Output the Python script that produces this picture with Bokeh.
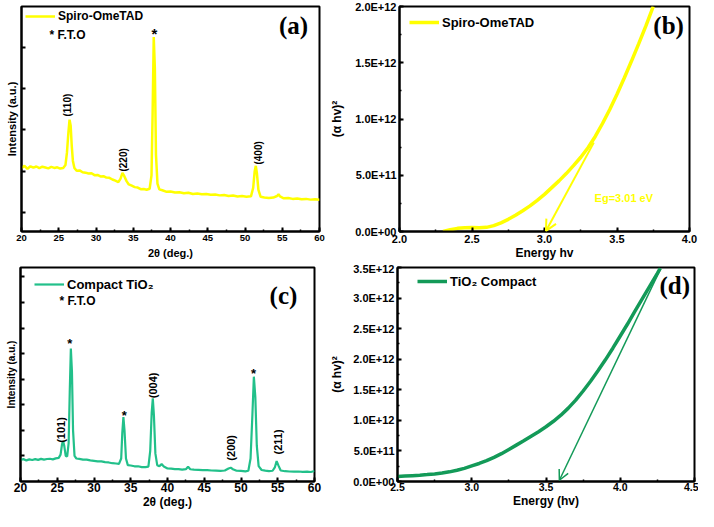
import math
from bokeh.plotting import figure
from bokeh.models import (Range1d, SingleIntervalTicker, FixedTicker, Legend, LegendItem,
                          CustomJSTickFormatter, Arrow, OpenHead, NumeralTickFormatter,
                          CustomLabelingPolicy)
from bokeh.layouts import column, row
from bokeh.embed import file_html
from bokeh.resources import INLINE
from bokeh.core.properties import value

# ---------------- data ----------------
# (a) XRD Spiro-OmeTAD
a_two_theta = [20.0, 20.4, 20.8, 21.2, 21.6, 22.0, 22.4, 22.8, 23.2, 23.6, 24.0, 24.4, 24.8, 25.2,
               25.6, 25.9, 26.1, 26.3, 26.45, 26.6, 26.75, 26.9, 27.1, 27.4, 27.8, 28.2, 28.6, 29.0,
               29.4, 29.8, 30.2, 30.6, 31.0, 31.4, 31.8, 32.2, 32.6, 33.0, 33.3, 33.55, 33.8, 34.1,
               34.4, 34.8, 35.2, 35.6, 36.0, 36.4, 36.8, 37.2, 37.45, 37.6, 37.75, 37.9, 38.05, 38.25,
               38.5, 38.9, 39.4, 40.0, 40.6, 41.2, 41.8, 42.4, 43.0, 43.6, 44.2, 44.8, 45.4, 46.0,
               46.6, 47.2, 47.8, 48.4, 49.0, 49.6, 50.2, 50.8, 51.1, 51.3, 51.45, 51.6, 51.8, 52.1,
               52.6, 53.2, 53.8, 54.3, 54.5, 54.7, 55.2, 55.8, 56.4, 57.0, 57.6, 58.2, 58.8, 59.4, 60.0]
a_intensity = [1080, 1130, 1060, 1120, 1085, 1115, 1075, 1110, 1090, 1070, 1105, 1080, 1095, 1065,
               1080, 1150, 1450, 1950, 2250, 2100, 1600, 1250, 1080, 1010, 1020, 975, 965, 945,
               950, 905, 910, 875, 880, 845, 840, 800, 770, 735, 820, 960, 880, 760,
               680, 650, 615, 605, 565, 570, 550, 575, 900, 2400, 4250, 3500, 1400, 700,
               560, 540, 505, 510, 485, 490, 465, 478, 450, 462, 440, 448, 428, 436,
               415, 425, 400, 412, 390, 398, 380, 392, 600, 1000, 1130, 950, 550, 380,
               365, 350, 362, 400, 440, 390, 345, 352, 330, 340, 320, 330, 312, 322, 310]

# (b) Tauc plot Spiro-OmeTAD
b_energy = [2.30, 2.35, 2.40, 2.45, 2.50, 2.55, 2.60, 2.65, 2.70, 2.75, 2.80, 2.85, 2.90, 2.95,
            3.00, 3.05, 3.10, 3.15, 3.20, 3.25, 3.30, 3.35, 3.40, 3.45, 3.50, 3.55, 3.60, 3.65,
            3.70, 3.75]
b_ahv2 = [0.0, 0.015e12, 0.028e12, 0.034e12, 0.035e12, 0.034e12, 0.037e12, 0.052e12, 0.077e12,
          0.108e12, 0.145e12, 0.185e12, 0.228e12, 0.277e12, 0.33e12, 0.39e12, 0.45e12, 0.515e12,
          0.585e12, 0.66e12, 0.745e12, 0.845e12, 0.96e12, 1.085e12, 1.22e12, 1.365e12, 1.515e12,
          1.67e12, 1.83e12, 2.0e12]

# (c) XRD compact TiO2
c_two_theta = [20.0, 20.4, 20.8, 21.2, 21.6, 22.0, 22.4, 22.8, 23.2, 23.6, 24.0, 24.4, 24.8, 25.2,
               25.45, 25.65, 25.8, 25.95, 26.15, 26.35, 26.55, 26.7, 26.85, 27.0, 27.15, 27.35, 27.6,
               28.0, 28.5, 29.0, 29.5, 30.0, 30.5, 31.0, 31.5, 32.0, 32.5, 33.0, 33.4, 33.7, 33.85,
               34.0, 34.15, 34.35, 34.6, 35.0, 35.5, 36.0, 36.5, 37.0, 37.4, 37.65, 37.85, 38.0,
               38.15, 38.35, 38.6, 38.9, 39.2, 39.5, 40.0, 40.5, 41.0, 41.5, 42.0, 42.5, 42.8, 43.1,
               43.6, 44.2, 44.8, 45.4, 46.0, 46.6, 47.2, 47.8, 48.3, 48.6, 48.9, 49.4, 50.0, 50.6,
               51.0, 51.3, 51.55, 51.75, 51.95, 52.15, 52.4, 52.8, 53.3, 53.8, 54.3, 54.6, 54.85,
               55.1, 55.4, 56.0, 56.6, 57.2, 57.8, 58.4, 59.0, 59.5, 60.0]
c_intensity = [840, 875, 825, 865, 840, 875, 845, 885, 855, 880, 890, 865, 905, 925,
               1050, 1450, 1580, 1400, 1000, 980, 1500, 3500, 5200, 4300, 2000, 1000, 900,
               885, 855, 855, 825, 805, 785, 785, 755, 745, 715, 705, 690, 900, 1900,
               2520, 2000, 900, 640, 625, 595, 595, 565, 565, 580, 1200, 2700, 3250,
               2600, 1100, 640, 600, 680, 590, 510, 505, 485, 485, 465, 482, 580, 480,
               462, 455, 445, 445, 430, 428, 415, 430, 510, 540, 480, 420, 412, 398,
               420, 900, 2600, 4100, 3300, 1400, 600, 450, 425, 408, 420, 550, 800,
               620, 430, 402, 392, 385, 392, 376, 385, 372, 410]

# (d) Tauc plot compact TiO2
d_energy = [2.50, 2.55, 2.60, 2.65, 2.70, 2.75, 2.80, 2.85, 2.90, 2.95, 3.00, 3.05, 3.10, 3.15,
            3.20, 3.25, 3.30, 3.35, 3.40, 3.45, 3.50, 3.55, 3.60, 3.65, 3.70, 3.75, 3.80, 3.85,
            3.90, 3.95, 4.00, 4.05, 4.10, 4.15, 4.20, 4.25, 4.27]
d_ahv2 = [0.080e12, 0.088e12, 0.096e12, 0.104e12, 0.113e12, 0.124e12, 0.138e12, 0.158e12,
          0.183e12, 0.215e12, 0.255e12, 0.295e12, 0.340e12, 0.395e12, 0.455e12, 0.525e12,
          0.595e12, 0.665e12, 0.740e12, 0.815e12, 0.895e12, 0.985e12, 1.085e12, 1.200e12,
          1.330e12, 1.480e12, 1.640e12, 1.810e12, 1.990e12, 2.180e12, 2.380e12, 2.580e12,
          2.790e12, 2.995e12, 3.200e12, 3.405e12, 3.490e12]

peak_labels_a = ["(110)", "(220)", "(400)"]
peak_labels_c = ["(101)", "(004)", "(200)", "(211)"]
legend_a = "Spiro-OmeTAD"
legend_c = "Compact TiO\u2082"
legend_d = "TiO\u2082 Compact"
fto_note = "* F.T.O"
eg_note = "Eg=3.01 eV"

YELLOW = "#ffff00"
GREEN_C = "#22c08a"
GREEN_D = "#139a58"
SANS = "Liberation Sans"
SERIF = "Liberation Serif"


def base_fig(width, height, left, right, top, bottom, xr, yr):
    p = figure(width=width, height=height, x_range=Range1d(*xr), y_range=Range1d(*yr),
               output_backend="svg", toolbar_location=None, title=None,
               min_border_left=left, min_border_right=right,
               min_border_top=top, min_border_bottom=bottom)
    p.xgrid.visible = False
    p.ygrid.visible = False
    p.outline_line_color = "black"
    p.outline_line_width = 2
    p.outline_line_alpha = 1
    p.background_fill_color = "white"
    p.border_fill_color = "white"
    for ax in (p.xaxis[0], p.yaxis[0]):
        ax.axis_line_width = 2
        ax.axis_line_color = "black"
        ax.major_tick_in = 4
        ax.major_tick_out = 0
        ax.minor_tick_in = 2
        ax.minor_tick_out = 0
        ax.major_tick_line_width = 2
        ax.minor_tick_line_width = 1.5
        ax.major_tick_line_color = "black"
        ax.minor_tick_line_color = "black"
        ax.major_label_text_font = SANS
        ax.major_label_text_font_style = "bold"
        ax.major_label_text_color = "black"
        ax.axis_label_text_font = SANS
        ax.axis_label_text_font_style = "bold"
        ax.axis_label_text_color = "black"
    return p


def add_legend(p, renderer, label, vx, vy, size):
    leg = Legend(items=[LegendItem(label=label, renderers=[renderer])], location=(vx, vy),
                 margin=0, padding=0, spacing=0, glyph_width=30, glyph_height=20,
                 label_height=20, label_standoff=3, border_line_color=None,
                 background_fill_alpha=0, label_text_font=SANS,
                 label_text_font_style="bold", label_text_font_size=size,
                 label_text_color="black")
    p.add_layout(leg)


sci_fmt = CustomJSTickFormatter(code="""
const s = tick.toExponential(1);
const parts = s.split('e');
const sign = parts[1][0];
let d = parts[1].slice(1);
if (d.length < 2) { d = '0' + d; }
return parts[0] + 'E' + sign + d;
""")

no_labels = CustomLabelingPolicy(code="""
const all = [];
for (const i of indices) { all.push(i) }
for (const i of all) { indices.unset(i) }
return indices
""")

# ---------------- (a) ----------------
pa = base_fig(327, 262, 21, 8, 5, 31, (20, 60), (-460, 4990))
pa.xaxis.ticker = SingleIntervalTicker(interval=5, num_minor_ticks=2)
pa.yaxis.ticker = FixedTicker(ticks=[0, 1000, 2000, 3000, 4000], minor_ticks=[])
pa.xaxis.major_label_text_font_size = "9.5px"
pa.xaxis.major_label_standoff = 3
pa.xaxis.axis_label = "2\u03b8 (deg.)"
pa.xaxis.axis_label_text_font_size = "11px"
pa.xaxis.axis_label_standoff = 3
pa.yaxis.major_label_text_font_size = "0px"
pa.yaxis.major_label_policy = no_labels
pa.yaxis.major_label_standoff = 4
pa.yaxis.axis_label = "Intensity (a.u.)"
pa.yaxis.axis_label_text_font_size = "11px"
pa.yaxis.axis_label_standoff = 4
ra = pa.line(a_two_theta, a_intensity, line_color=YELLOW, line_width=2.5)
add_legend(pa, ra, legend_a, 4, 205, "12px")
pa.text(x=[23.76], y=[4288], text=[fto_note], text_font=value(SANS), text_font_style="bold",
        text_font_size="12px", text_align="left", text_baseline="middle", text_color="black")
pa.text(x=[26.17, 33.69, 51.81], y=[2601, 1275, 1444], text=peak_labels_a, angle=math.pi / 2,
        text_font=value(SANS), text_font_style="bold", text_font_size="10px",
        text_align="center", text_baseline="middle", text_color="black")
pa.text(x=[37.85], y=[4432], text=["*"], text_font=value(SANS), text_font_style="bold",
        text_font_size="15px", text_align="center", text_baseline="middle", y_offset=4,
        text_color="black")
pa.text(x=[56.51], y=[4529], text=["(a)"], text_font=value(SERIF), text_font_style="bold",
        text_font_size="25px", text_align="center", text_baseline="middle", text_color="black")

# ---------------- (b) ----------------
pb = base_fig(371, 262, 66, 9, 6, 29, (2.0, 4.0), (0, 2.0e12))
pb.xaxis.ticker = SingleIntervalTicker(interval=0.5, num_minor_ticks=2)
pb.xaxis.formatter = NumeralTickFormatter(format="0.0")
pb.yaxis.ticker = SingleIntervalTicker(interval=0.5e12, num_minor_ticks=2)
pb.yaxis.formatter = sci_fmt
pb.xaxis.major_label_text_font_size = "11px"
pb.xaxis.major_label_standoff = 3
pb.xaxis.axis_label = "Energy hv"
pb.xaxis.axis_label_text_font_size = "12px"
pb.xaxis.axis_label_standoff = 0
pb.yaxis.major_label_text_font_size = "11px"
pb.yaxis.major_label_standoff = 3
pb.yaxis.axis_label = "(\u03b1 hv)\u00b2"
pb.yaxis.axis_label_text_font_size = "12px"
pb.yaxis.axis_label_standoff = 8
rb = pb.line(b_energy, b_ahv2, line_color=YELLOW, line_width=3.5)
add_legend(pb, rb, legend_a, 10, 199, "13px")
pb.add_layout(Arrow(end=OpenHead(size=11, line_color=YELLOW, line_width=2),
                    x_start=3.34, y_start=0.79e12, x_end=3.01, y_end=0.005e12,
                    line_color=YELLOW, line_width=2))
pb.text(x=[3.547], y=[0.30e12], text=[eg_note], text_font=value(SANS), text_font_style="bold",
        text_font_size="11px", text_align="center", text_baseline="middle", text_color=YELLOW)
pb.text(x=[3.856], y=[1.83e12], text=["(b)"], text_font=value(SERIF), text_font_style="bold",
        text_font_size="25px", text_align="center", text_baseline="middle", text_color="black")

# ---------------- (c) ----------------
pc = base_fig(327, 249, 20, 13, 3, 30, (20, 60), (0, 8370))
pc.xaxis.ticker = SingleIntervalTicker(interval=5, num_minor_ticks=2)
pc.yaxis.ticker = FixedTicker(ticks=[1000, 2000, 3000, 4000, 5000, 6000, 7000, 8000], minor_ticks=[])
pc.xaxis.major_label_text_font_size = "12px"
pc.xaxis.major_label_standoff = 1
pc.xaxis.axis_label = "2\u03b8 (deg.)"
pc.xaxis.axis_label_text_font_size = "12px"
pc.xaxis.axis_label_standoff = 0
pc.yaxis.major_label_text_font_size = "0px"
pc.yaxis.major_label_policy = no_labels
pc.yaxis.major_label_standoff = 4
pc.yaxis.axis_label = "Intensity (a.u.)"
pc.yaxis.axis_label_text_font_size = "10px"
pc.yaxis.axis_label_standoff = 4
rc = pc.line(c_two_theta, c_intensity, line_color=GREEN_C, line_width=2.2)
add_legend(pc, rc, legend_c, 14, 187, "13px")
pc.text(x=[25.31], y=[7054], text=[fto_note], text_font=value(SANS), text_font_style="bold",
        text_font_size="12px", text_align="left", text_baseline="middle", text_color="black")
pc.text(x=[25.48, 38.05, 48.61, 54.97], y=[2016, 3760, 1318, 1550], text=peak_labels_c,
        angle=math.pi / 2, text_font=value(SANS), text_font_style="bold", text_font_size="11px",
        text_align="center", text_baseline="middle", text_color="black")
pc.text(x=[26.71, 34.11, 51.70], y=[5504, 2713, 4341], text=["*", "*", "*"],
        text_font=value(SANS), text_font_style="bold", text_font_size="13px",
        text_align="center", text_baseline="middle", y_offset=3, text_color="black")
pc.text(x=[55.78], y=[7260], text=["(c)"], text_font=value(SERIF), text_font_style="bold",
        text_font_size="25px", text_align="center", text_baseline="middle", text_color="black")

# ---------------- (d) ----------------
pd_ = base_fig(371, 249, 66, 4, 5, 27, (2.5, 4.5), (0, 3.5e12))
pd_.xaxis.ticker = SingleIntervalTicker(interval=0.5, num_minor_ticks=2)
pd_.xaxis.formatter = NumeralTickFormatter(format="0.0")
pd_.yaxis.ticker = SingleIntervalTicker(interval=0.5e12, num_minor_ticks=2)
pd_.yaxis.formatter = sci_fmt
pd_.xaxis.major_label_text_font_size = "10.5px"
pd_.xaxis.major_label_standoff = 1
pd_.xaxis.axis_label = "Energy (hv)"
pd_.xaxis.axis_label_text_font_size = "12px"
pd_.xaxis.axis_label_standoff = 0
pd_.yaxis.major_label_text_font_size = "11px"
pd_.yaxis.major_label_standoff = 3
pd_.yaxis.axis_label = "(\u03b1 hv)\u00b2"
pd_.yaxis.axis_label_text_font_size = "12px"
pd_.yaxis.axis_label_standoff = 6
rd = pd_.line(d_energy, d_ahv2, line_color=GREEN_D, line_width=3.5)
add_legend(pd_, rd, legend_d, 20, 190, "13px")
pd_.add_layout(Arrow(end=OpenHead(size=10, line_color=GREEN_D, line_width=1.5),
                     x_start=4.27, y_start=3.47e12, x_end=3.59, y_end=0.02e12,
                     line_color=GREEN_D, line_width=1.5))
pd_.text(x=[4.367], y=[3.21e12], text=["(d)"], text_font=value(SERIF), text_font_style="bold",
         text_font_size="25px", text_align="center", text_baseline="middle", text_color="black")

layout = column(row(pa, pb), row(pc, pd_))
open("out.html", "w").write(file_html(layout, INLINE))
